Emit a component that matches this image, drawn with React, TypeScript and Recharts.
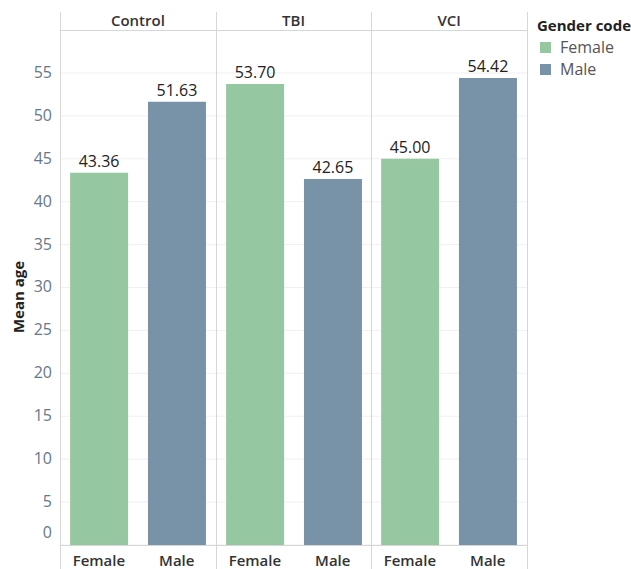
import { BarChart, Bar, XAxis, YAxis, CartesianGrid, Cell, LabelList } from "recharts"

const groups = ["Control", "TBI", "VCI"]
const genders = ["Female", "Male"]
const femaleMeans = [43.36, 53.7, 45.0]
const maleMeans = [51.63, 42.65, 54.42]
const yTicks = [0, 5, 10, 15, 20, 25, 30, 35, 40, 45, 50, 55]

const COLORS: Record<string, string> = { Female: "#95c8a1", Male: "#7893a8" }
const FONT = "'Segoe UI', 'Open Sans', 'Noto Sans', sans-serif"
const LINE = "#d6d6d6"

const PANEL_W = 155.7
const PLOT_LEFT = 60
const TOP = 30
const CHART_H = 539

function YTick(props: any) {
  const { x, y, payload } = props
  const dy = payload.value === 0 ? -12 : 0
  return (
    <text x={x} y={y + dy} dy={5} textAnchor="end" fill="#66788a" fontSize={16} fontFamily={FONT}>
      {payload.value}
    </text>
  )
}

function Panel({ index }: { index: number }) {
  const data = genders.map((g) => ({
    gender: g,
    value: g === "Female" ? femaleMeans[index] : maleMeans[index],
  }))
  const withAxis = index === 0
  const width = PANEL_W + (withAxis ? PLOT_LEFT : 0)
  const left = withAxis ? 0 : PLOT_LEFT + PANEL_W * index
  return (
    <div style={{ position: "absolute", left, top: TOP }}>
      <BarChart
        width={width}
        height={CHART_H}
        data={data}
        margin={{ top: 0, right: 0, bottom: 0, left: 0 }}
        barCategoryGap="13%"
      >
        <CartesianGrid vertical={false} stroke="#f0f0f0" />
        <XAxis
          dataKey="gender"
          height={24}
          axisLine={false}
          tickLine={false}
          tick={{ fontSize: 15, fill: "#333", fontFamily: FONT, fontWeight: 600 }}
          tickMargin={4}
        />
        <YAxis
          hide={!withAxis}
          width={PLOT_LEFT}
          domain={[0, 60]}
          ticks={yTicks}
          axisLine={false}
          tickLine={false}
          tick={<YTick />}
          interval={0}
        />
        <Bar dataKey="value" isAnimationActive={false}>
          {data.map((d) => (
            <Cell key={d.gender} fill={COLORS[d.gender]} />
          ))}
          <LabelList
            dataKey="value"
            position="top"
            formatter={(v: any) => Number(v).toFixed(2)}
            style={{ fontSize: 16, fill: "#222", fontFamily: FONT }}
            offset={6}
          />
        </Bar>
      </BarChart>
    </div>
  )
}

export default function App() {
  const right = PLOT_LEFT + PANEL_W * 3
  return (
    <div style={{ position: "absolute", left: 0, top: 0, width: 631, height: 569, background: "#fff", fontFamily: FONT, overflow: "hidden" }}>
      {groups.map((g, i) => (
        <Panel key={g} index={i} />
      ))}
      {/* frame lines */}
      {[0, 1, 2, 3].map((i) => (
        <div
          key={i}
          style={{ position: "absolute", left: PLOT_LEFT + PANEL_W * i, top: 12, width: 1, height: 557, background: LINE }}
        />
      ))}
      <div style={{ position: "absolute", left: PLOT_LEFT, top: TOP, width: right - PLOT_LEFT, height: 1, background: LINE }} />
      <div style={{ position: "absolute", left: PLOT_LEFT, top: 545, width: right - PLOT_LEFT, height: 1, background: LINE }} />
      {groups.map((g, i) => (
        <div
          key={g}
          style={{
            position: "absolute",
            left: PLOT_LEFT + PANEL_W * i,
            top: 10,
            width: PANEL_W,
            textAlign: "center",
            fontSize: 15,
            fontWeight: 600,
            color: "#333",
          }}
        >
          {g}
        </div>
      ))}
      <div
        style={{
          position: "absolute",
          left: 18 - 50,
          top: 297 - 10,
          width: 100,
          height: 20,
          textAlign: "center",
          transform: "rotate(-90deg)",
          fontSize: 15,
          fontWeight: 700,
          color: "#222",
        }}
      >
        Mean age
      </div>
      <div style={{ position: "absolute", left: 537, top: 15, fontSize: 15, fontWeight: 700, color: "#222" }}>
        Gender code
      </div>
      {genders.map((g, i) => (
        <div key={g} style={{ position: "absolute", left: 540, top: 36 + i * 22, display: "flex", alignItems: "center" }}>
          <div style={{ width: 11, height: 11, background: COLORS[g], marginRight: 9 }} />
          <span style={{ fontSize: 16, color: "#555" }}>{g}</span>
        </div>
      ))}
    </div>
  )
}
